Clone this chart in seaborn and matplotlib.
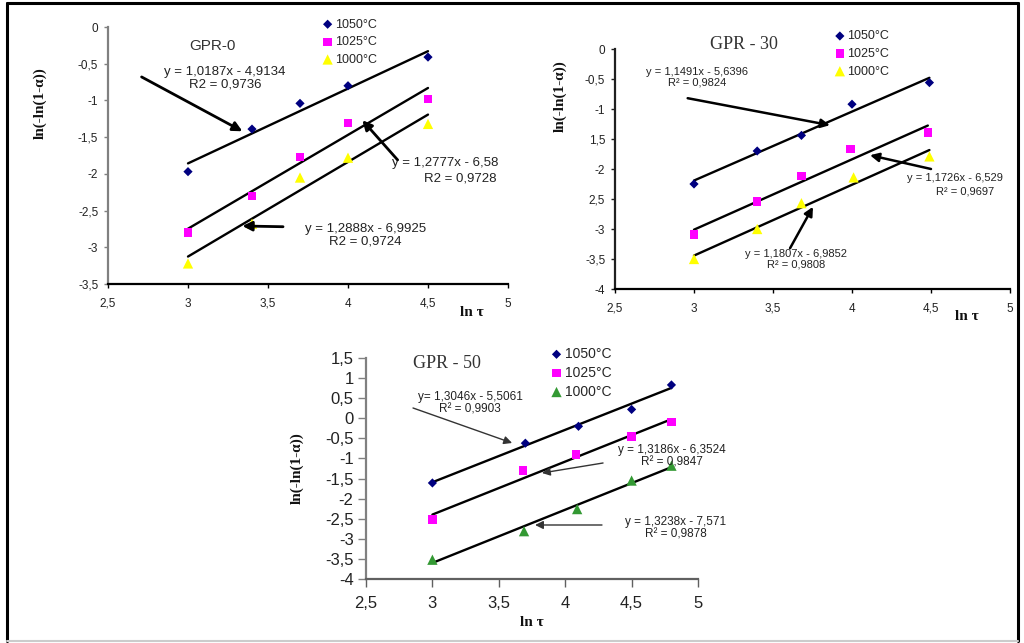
import matplotlib
matplotlib.use("Agg")
import matplotlib.pyplot as plt
from matplotlib.lines import Line2D
import seaborn as sns
import pandas as pd
import numpy as np

# ---------------- data ----------------
temps = ["1050°C", "1025°C", "1000°C"]

# GPR-0
p0_x1050 = [3.0, 3.4, 3.7, 4.0, 4.5]
p0_y1050 = [-1.97, -1.39, -1.04, -0.80, -0.41]
p0_x1025 = [3.0, 3.4, 3.7, 4.0, 4.5]
p0_y1025 = [-2.80, -2.30, -1.77, -1.31, -0.98]
p0_x1000 = [3.0, 3.4, 3.7, 4.0, 4.5]
p0_y1000 = [-3.22, -2.68, -2.05, -1.78, -1.32]
p0_slope = [1.0187, 1.2777, 1.2888]
p0_icpt = [-4.9134, -6.58, -6.9925]

# GPR-30
p30_x1050 = [3.0, 3.4, 3.68, 4.0, 4.49]
p30_y1050 = [-2.25, -1.70, -1.44, -0.92, -0.56]
p30_x1025 = [3.0, 3.4, 3.68, 3.99, 4.48]
p30_y1025 = [-3.09, -2.54, -2.12, -1.67, -1.39]
p30_x1000 = [3.0, 3.4, 3.68, 4.01, 4.49]
p30_y1000 = [-3.50, -3.00, -2.57, -2.14, -1.79]
p30_slope = [1.1491, 1.1726, 1.1807]
p30_icpt = [-5.6396, -6.529, -6.9852]

# GPR-50
p50_x1050 = [3.0, 3.7, 4.1, 4.5, 4.8]
p50_y1050 = [-1.61, -0.62, -0.20, 0.22, 0.83]
p50_x1025 = [3.0, 3.68, 4.08, 4.5, 4.8]
p50_y1025 = [-2.52, -1.30, -0.90, -0.45, -0.09]
p50_x1000 = [3.0, 3.69, 4.09, 4.5, 4.8]
p50_y1000 = [-3.52, -2.81, -2.26, -1.55, -1.18]
p50_slope = [1.3046, 1.3186, 1.3238]
p50_icpt = [-5.5061, -6.3524, -7.571]

# tick labels
xticks = [2.5, 3.0, 3.5, 4.0, 4.5, 5.0]
xtick_labels = ["2,5", "3", "3,5", "4", "4,5", "5"]
p0_yticks = [0, -0.5, -1, -1.5, -2, -2.5, -3, -3.5]
p0_ytick_labels = ["0", "-0,5", "-1", "-1,5", "-2", "-2,5", "-3", "-3,5"]
p30_yticks = [0, -0.5, -1, -1.5, -2, -2.5, -3, -3.5, -4]
p30_ytick_labels = ["0", "-0,5", "-1", "1,5", "-2", "2,5", "-3", "-3,5", "-4"]
p50_yticks = [1.5, 1, 0.5, 0, -0.5, -1, -1.5, -2, -2.5, -3, -3.5, -4]
p50_ytick_labels = ["1,5", "1", "0,5", "0", "-0,5", "-1", "-1,5", "-2", "-2,5", "-3", "-3,5", "-4"]

titles = ["GPR-0", "GPR - 30", "GPR - 50"]
ylabel_text = "ln(-ln(1-α))"
xlabel_text = "ln τ"

# ---------------- style ----------------
sns.set_style("white")
plt.rcParams["font.family"] = ["Liberation Sans", "DejaVu Sans"]

fig = plt.figure(figsize=(10.24, 6.43), dpi=100)
W, H = 1024, 643


def px_axes(l, r, t, b):
    return fig.add_axes([l / W, 1 - b / H, (r - l) / W, (b - t) / H])


marker_map = {"1050°C": "D", "1025°C": "s", "1000°C": "^"}
size_map = {"1050°C": 22, "1025°C": 36, "1000°C": 55}


def draw_panel(ax, xs, ys, slopes, icpts, colors):
    for t, x, y, c, m, b in zip(temps, xs, ys, colors, slopes, icpts):
        df = pd.DataFrame({"x": x, "y": y})
        sns.scatterplot(data=df, x="x", y="y", ax=ax, marker=marker_map[t],
                        s=size_map[t], color=c, edgecolor="none", label=t,
                        legend=False, zorder=3, clip_on=False)
        xl = np.array([min(x), max(x)])
        dfl = pd.DataFrame({"x": xl, "y": m * xl + b})
        sns.lineplot(data=dfl, x="x", y="y", ax=ax, color="black", lw=1.7,
                     legend=False, zorder=2)
    ax.set_xlabel("")
    ax.set_ylabel("")


# ---------- panel 1 : GPR-0 ----------
ax1 = px_axes(108, 508, 27, 284)
draw_panel(ax1, [p0_x1050, p0_x1025, p0_x1000],
           [p0_y1050, p0_y1025, p0_y1000], p0_slope, p0_icpt,
           ["#000080", "#FF00FF", "#FFFF00"])
ax1.set_xlim(2.5, 5)
ax1.set_ylim(-3.5, 0)
ax1.set_xticks(xticks, xtick_labels)
ax1.set_yticks(p0_yticks, p0_ytick_labels)

# ---------- panel 2 : GPR-30 ----------
ax2 = px_axes(615, 1010, 49, 289)
draw_panel(ax2, [p30_x1050, p30_x1025, p30_x1000],
           [p30_y1050, p30_y1025, p30_y1000], p30_slope, p30_icpt,
           ["#000080", "#FF00FF", "#FFFF00"])
ax2.set_xlim(2.5, 5)
ax2.set_ylim(-4, 0)
ax2.set_xticks(xticks, xtick_labels)
ax2.set_yticks(p30_yticks, p30_ytick_labels)

# ---------- panel 3 : GPR-50 ----------
ax3 = px_axes(366, 698, 358, 579)
draw_panel(ax3, [p50_x1050, p50_x1025, p50_x1000],
           [p50_y1050, p50_y1025, p50_y1000], p50_slope, p50_icpt,
           ["#000080", "#FF00FF", "#339933"])
ax3.set_xlim(2.5, 5)
ax3.set_ylim(-4, 1.5)
ax3.set_xticks(xticks, xtick_labels)
ax3.set_yticks(p50_yticks, p50_ytick_labels)

# ---------- axes styling ----------
for ax, fs, lspine, bspine, pad_x, pad_y, tl in [
        (ax1, 8.5, "#808080", "#000000", 7, 4, 3),
        (ax2, 8.5, "#202020", "#000000", 7, 4, 3),
        (ax3, 12, "#808080", "#606060", 6, 3, 6)]:
    for s in ["top", "right"]:
        ax.spines[s].set_visible(False)
    ax.spines["left"].set_color(lspine)
    ax.spines["bottom"].set_color(bspine)
    ax.spines["left"].set_linewidth(1.6)
    ax.spines["bottom"].set_linewidth(1.6)
    ax.tick_params(axis="x", direction="out", length=tl, width=1, colors=bspine,
                   labelcolor="#222222", labelsize=fs, pad=pad_x, bottom=True)
    ax.tick_params(axis="y", direction="out", length=tl, width=1, colors=lspine,
                   labelcolor="#222222", labelsize=fs, pad=pad_y, left=True)
    ax.patch.set_alpha(0)

# legends
leg_kw = dict(frameon=False, handletextpad=0.15, handlelength=0.9,
              borderpad=0, borderaxespad=0, loc="upper left")
ax1.legend(bbox_to_anchor=(0.535, 1.033), fontsize=9, labelspacing=0.45, **leg_kw)
ax2.legend(bbox_to_anchor=(0.555, 1.078), fontsize=9, labelspacing=0.45, **leg_kw)
ax3.legend(bbox_to_anchor=(0.555, 1.05), fontsize=10, labelspacing=0.35, **leg_kw)

# titles
ax1.text(0.26, 0.926, titles[0], transform=ax1.transAxes, ha="center",
         va="center", fontsize=11, color="#333333")
ax2.text(0.327, 1.017, titles[1], transform=ax2.transAxes, ha="center",
         va="center", fontsize=13, family="Liberation Serif", color="#333333")
ax3.text(0.244, 0.973, titles[2], transform=ax3.transAxes, ha="center",
         va="center", fontsize=13, family="Liberation Serif", color="#333333")

# axis labels
lab_kw = dict(family="Liberation Serif", fontweight="bold", fontsize=11,
              color="#111111")
ax1.text(-0.17, 0.704, ylabel_text, transform=ax1.transAxes, rotation=90,
         ha="center", va="center", **lab_kw)
ax2.text(-0.139, 0.804, ylabel_text, transform=ax2.transAxes, rotation=90,
         ha="center", va="center", **lab_kw)
ax3.text(-0.208, 0.502, ylabel_text, transform=ax3.transAxes, rotation=90,
         ha="center", va="center", **lab_kw)
ax1.text(0.91, -0.109, xlabel_text, transform=ax1.transAxes, ha="center",
         va="center", **lab_kw)
ax2.text(0.89, -0.113, xlabel_text, transform=ax2.transAxes, ha="center",
         va="center", **lab_kw)
ax3.text(0.5, -0.199, xlabel_text, transform=ax3.transAxes, ha="center",
         va="center", **lab_kw)

# ---------- equation annotations ----------
def eq_text(ax, s, x, y, fs, ha="center"):
    ax.text(x, y, s, ha=ha, va="center", fontsize=fs, color="#222222",
            clip_on=False, multialignment="center", linespacing=1.05)


def arrow(ax, tail, tip, lw, color, ms):
    ax.annotate("", xy=tip, xytext=tail, annotation_clip=False,
                arrowprops=dict(arrowstyle="-|>", color=color, lw=lw,
                                mutation_scale=ms, shrinkA=0, shrinkB=0))

# panel 1
eq_text(ax1, "y = 1,0187x - 4,9134\nR2 = 0,9736", 3.23, -0.70, 9.5)
arrow(ax1, (2.71, -0.68), (3.34, -1.42), 2.0, "black", 14)
eq_text(ax1, "y = 1,2777x - 6,58", 4.275, -1.85, 9.5, ha="left")
eq_text(ax1, "R2 = 0,9728", 4.70, -2.06, 9.5)
arrow(ax1, (4.31, -1.81), (4.09, -1.27), 2.0, "black", 14)
eq_text(ax1, "y = 1,2888x - 6,9925\nR2 = 0,9724", 4.11, -2.84, 9.5)
arrow(ax1, (3.594, -2.72), (3.34, -2.71), 2.0, "black", 14)

# panel 2
eq_text(ax2, "y = 1,1491x - 5,6396\nR² = 0,9824", 3.02, -0.47, 8)
arrow(ax2, (2.96, -0.82), (3.86, -1.27), 1.8, "black", 13)
eq_text(ax2, "y = 1,1726x - 6,529", 4.348, -2.15, 8, ha="left")
eq_text(ax2, "R² = 0,9697", 4.715, -2.37, 8)
arrow(ax2, (4.50, -2.00), (4.114, -1.77), 1.8, "black", 13)
eq_text(ax2, "y = 1,1807x - 6,9852\nR² = 0,9808", 3.646, -3.50, 8)
arrow(ax2, (3.608, -3.32), (3.753, -2.63), 1.8, "black", 13)

# panel 3
eq_text(ax3, "y= 1,3046x - 5,5061\nR² = 0,9903", 3.283, 0.38, 8.5)
arrow(ax3, (2.854, 0.256), (3.60, -0.615), 1.0, "#333333", 12)
eq_text(ax3, "y = 1,3186x - 6,3524\nR² = 0,9847", 4.804, -0.94, 8.5)
arrow(ax3, (4.285, -1.113), (3.825, -1.362), 1.0, "#333333", 12)
eq_text(ax3, "y = 1,3238x - 7,571\nR² = 0,9878", 4.834, -2.745, 8.5)
arrow(ax3, (4.277, -2.656), (3.773, -2.656), 1.0, "#333333", 12)

# ---------- outer frame ----------
L, R, T, B = 7 / W, 1018 / W, 1 - 3 / H, 1 - 641 / H
for (xa, ya, c, lw) in [([L, R], [T, T], "black", 2.2),
                        ([L, L], [B, T], "black", 2.2),
                        ([R, R], [B, T], "black", 2.2),
                        ([L, R], [B, B], "#cccccc", 1.5)]:
    fig.add_artist(Line2D(xa, ya, transform=fig.transFigure, color=c, lw=lw))

fig.savefig("out.png", dpi=100)
